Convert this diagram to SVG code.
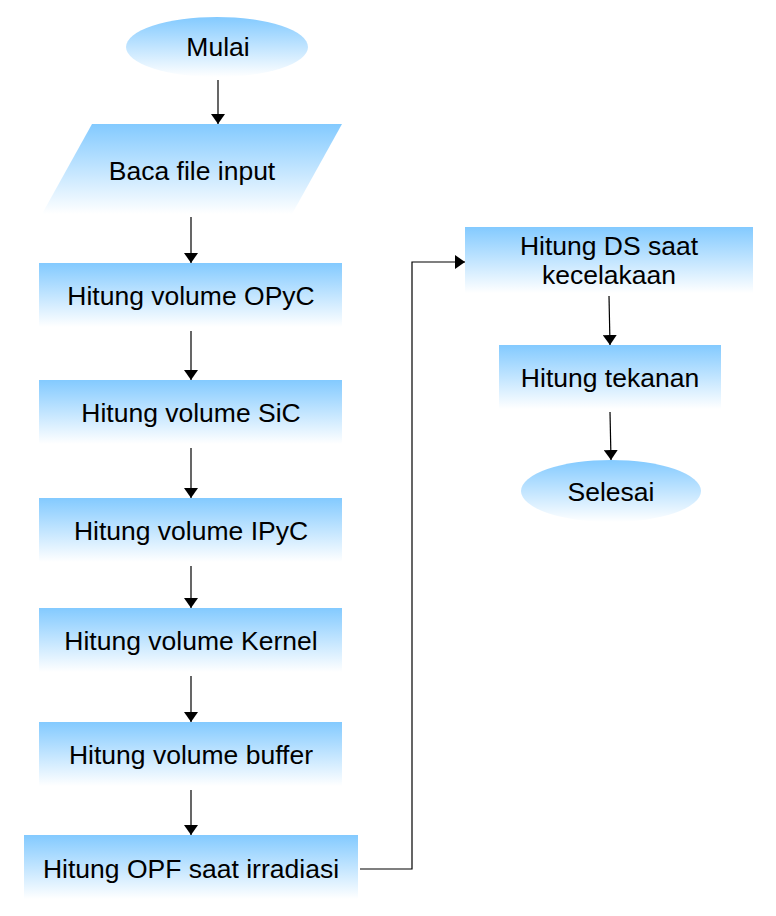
<svg xmlns="http://www.w3.org/2000/svg" width="776" height="916" viewBox="0 0 776 916">
<defs>
<linearGradient id="g" x1="0" y1="0" x2="0" y2="1">
<stop offset="0" stop-color="#83caff"/>
<stop offset="1" stop-color="#ffffff"/>
</linearGradient>
<marker id="ah" markerWidth="10" markerHeight="14" refX="10" refY="7" orient="auto" markerUnits="userSpaceOnUse">
<path d="M0,0 L10,7 L0,14 Z" fill="#000"/>
</marker>
</defs>
<style>
.s{fill:url(#g);stroke:none}
text{font-family:"Liberation Sans",Arial,sans-serif;font-size:26.5px;fill:#000;text-anchor:middle}
.c{fill:none;stroke:#000;stroke-width:1.2;marker-end:url(#ah)}
</style>
<rect width="776" height="916" fill="#fff"/>
<g id="mulai"><ellipse class="s" cx="217" cy="47" rx="91" ry="30"/><text x="218" y="56">Mulai</text></g>
<g id="baca"><polygon class="s" points="92,124 342,124 292,214 42,214"/><text x="192" y="180">Baca file input</text></g>
<g id="opyc"><rect class="s" x="39" y="263" width="303" height="64"/><text x="191" y="305">Hitung volume OPyC</text></g>
<g id="sic"><rect class="s" x="39" y="380" width="303" height="64"/><text x="191" y="422">Hitung volume SiC</text></g>
<g id="ipyc"><rect class="s" x="39" y="498" width="303" height="64"/><text x="191" y="540">Hitung volume IPyC</text></g>
<g id="kernel"><rect class="s" x="39" y="608" width="303" height="64"/><text x="191" y="650">Hitung volume Kernel</text></g>
<g id="buffer"><rect class="s" x="39" y="722" width="303" height="64"/><text x="191" y="764">Hitung volume buffer</text></g>
<g id="opf"><rect class="s" x="24" y="835" width="334" height="64"/><text x="191" y="878">Hitung OPF saat irradiasi</text></g>
<g id="ds"><rect class="s" x="465" y="227" width="288" height="66"/><text x="609" y="255">Hitung DS saat</text><text x="609" y="284">kecelakaan</text></g>
<g id="tekanan"><rect class="s" x="499" y="345" width="222" height="64"/><text x="610" y="387">Hitung tekanan</text></g>
<g id="selesai"><ellipse class="s" cx="611" cy="491" rx="90" ry="31"/><text x="611" y="501">Selesai</text></g>
<g id="connectors">
<line class="c" x1="218" y1="80" x2="218" y2="124"/>
<line class="c" x1="191" y1="217" x2="191" y2="263"/>
<line class="c" x1="191" y1="331" x2="191" y2="380"/>
<line class="c" x1="191" y1="448" x2="191" y2="498"/>
<line class="c" x1="191" y1="566" x2="191" y2="608"/>
<line class="c" x1="191" y1="676" x2="191" y2="722"/>
<line class="c" x1="191" y1="790" x2="191" y2="835"/>
<polyline class="c" points="360,869 412,869 412,262 465,262"/>
<line class="c" x1="609" y1="296" x2="610" y2="345"/>
<line class="c" x1="610" y1="412" x2="611" y2="460"/>
</g>
</svg>
